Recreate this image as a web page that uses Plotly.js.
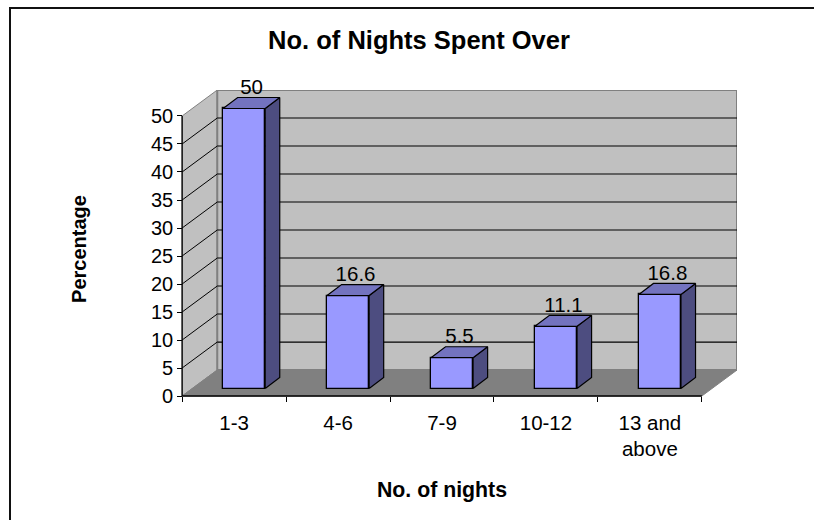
<!DOCTYPE html>
<html><head><meta charset="utf-8">
<script src="https://cdn.plot.ly/plotly-3.0.1.min.js"></script>
<style>html,body{margin:0;padding:0;background:#fff}</style></head>
<body><div id="chart" style="width:814px;height:520px"></div>
<script>
const categories = ['1-3','4-6','7-9','10-12','13 and<br>above'];
const values = [50,16.6,5.5,11.1,16.8];
const yTicks = [0,5,10,15,20,25,30,35,40,45,50];
const edgeTicks = [0,1,2,3,4,5];

// projection offsets in axis units
const wallDX = 0.338, wallDY = 4.64;
const barDX = 0.0965, barDY = 1.34;
const sideDX = 0.14, sideDY = 1.96;
const barW = 0.405;
const labelDX = 0.072, labelDY = -0.3;
const nCat = categories.length, yMax = 50, yLow = -2.14;
const centres = categories.map((c,i)=>i+0.5);
const FONT = 'Liberation Sans';

// plot box in pixels, used only to express the frame and free axis positions
const L = 147, R = 77, T = 90, B = 112, W = 814-L-R, H = 520-T-B;
const px = v => (v-L)/W, py = v => 1-(v-T)/H;

function poly(pts, fill, line){
  return {type:'path', layer:'below', xref:'x', yref:'y',
    path:'M'+pts.map(p=>p[0]+','+p[1]).join('L')+'Z', fillcolor:fill, line:line||{width:0}};
}
function seg(x0,y0,x1,y1,color,width,layer){
  return {type:'line',layer:layer||'below',xref:'x',yref:'y',x0,y0,x1,y1,line:{color,width}};
}
const shapes = [
  poly([[0,0],[wallDX,wallDY],[wallDX,yMax+wallDY],[0,yMax]],'#c0c0c0',{color:'#808080',width:1}),
  poly([[wallDX,wallDY],[nCat+wallDX,wallDY],[nCat+wallDX,yMax+wallDY],[wallDX,yMax+wallDY]],'#c0c0c0',{color:'#808080',width:2}),
  poly([[0,0],[nCat,0],[nCat+wallDX,wallDY],[wallDX,wallDY]],'#808080',{color:'#808080',width:1})
];
yTicks.filter(v=>v>0&&v<yMax).forEach(v=>{
  shapes.push(seg(wallDX,v+wallDY,nCat+wallDX,v+wallDY,'#000000',1.2));
  shapes.push(seg(0,v,wallDX,v+wallDY,'#000000',1));
});
shapes.push(seg(0,0,0,yMax,'#000',1.3,'above'));
shapes.push(seg(0,0,nCat,0,'#000',1.3,'above'));
// chart frame
shapes.push({type:'line',xref:'paper',yref:'paper',x0:px(10),x1:px(820),y0:py(8),y1:py(8),line:{color:'#111',width:2}});
shapes.push({type:'line',xref:'paper',yref:'paper',x0:px(10),x1:px(10),y0:py(7),y1:py(525),line:{color:'#111',width:2}});

const barTrace = {type:'bar', x:centres.map(c=>c+barDX), y:values, base:values.map(()=>barDY), width:barW,
  marker:{color:'#9999ff',line:{color:'#000',width:1.3}}, hoverinfo:'skip', showlegend:false};

function faceTrace(pts, color){
  return {type:'scatter',mode:'lines',x:pts.map(p=>p[0]),y:pts.map(p=>p[1]),fill:'toself',fillcolor:color,
    line:{color:'#000',width:1.2},hoverinfo:'skip',showlegend:false};
}
const faces = [];
centres.forEach((c,i)=>{
  const l=c+barDX-barW/2, r=c+barDX+barW/2, b=barDY, t=barDY+values[i];
  faces.push(faceTrace([[r,b],[r+sideDX,b+sideDY],[r+sideDX,t+sideDY],[r,t],[r,b]],'#4d4d80'));
  faces.push(faceTrace([[l,t],[r,t],[r+sideDX,t+sideDY],[l+sideDX,t+sideDY],[l,t]],'#7373bf'));
});
const labels = {type:'scatter',mode:'text',x:centres.map(c=>c+barDX+labelDX),y:values.map(v=>v+barDY+sideDY+labelDY),
  text:values.map(String),textposition:'top center',textfont:{family:FONT,size:20.5,color:'#000'},
  hoverinfo:'skip',showlegend:false,cliponaxis:false};

const layout = {
  width:814,height:520,paper_bgcolor:'#fff',plot_bgcolor:'rgba(0,0,0,0)',showlegend:false,
  margin:{l:L,r:R,t:T,b:B,pad:0},
  font:{family:FONT,color:'#000',size:20},
  title:{text:'<b>No. of Nights Spent Over</b>',font:{family:FONT,size:25.5,color:'#000'},x:px(419),xref:'paper',xanchor:'center',y:0.923,yanchor:'middle'},
  xaxis:{range:[-wallDX,nCat+wallDX],anchor:'free',position:(0-yLow)/(yMax+wallDY-yLow),
    tickmode:'array',tickvals:centres,ticktext:categories,showgrid:false,zeroline:false,showline:false,
    ticks:'',ticklen:0,ticklabelstandoff:12,tickfont:{size:20.5,family:FONT},tickangle:0,
    minor:{tickmode:'array',tickvals:edgeTicks,ticks:'outside',ticklen:5,tickwidth:1,tickcolor:'#000',showgrid:false},
    title:{text:'<b>No. of nights</b>',font:{size:21.3,family:FONT},standoff:22}},
  yaxis:{range:[yLow,yMax+wallDY],anchor:'free',position:wallDX/(nCat+2*wallDX),
    tickmode:'array',tickvals:yTicks,showgrid:false,zeroline:false,showline:false,
    ticks:'outside',ticklen:5,tickwidth:1,tickcolor:'#000',tickfont:{size:20,family:FONT},
    title:{text:'<b>Percentage</b>',font:{size:20,family:FONT},standoff:57}},
  shapes:shapes,bargap:0,barmode:'overlay'
};
Plotly.newPlot('chart',[barTrace,...faces,labels],layout,{displayModeBar:false,responsive:false});
</script></body></html>
